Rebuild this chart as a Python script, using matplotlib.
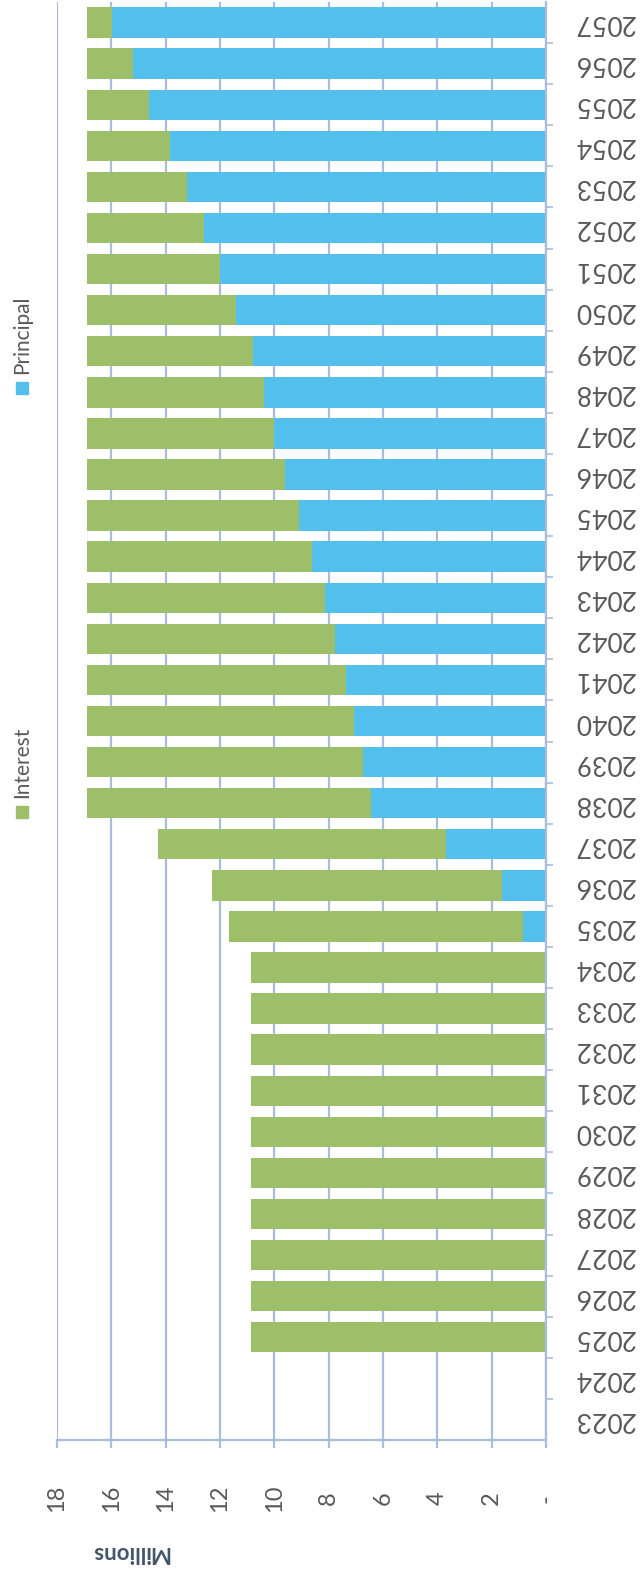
import matplotlib
matplotlib.use("Agg")
from matplotlib import pyplot as plt
from matplotlib.patches import Rectangle
import numpy as np

plt.rcParams['font.family'] = ['Lato', 'DejaVu Sans']

# Debt service schedule, in millions
years = [str(y) for y in range(2023, 2058)]
interest = [0, 0,
            10.85, 10.85, 10.85, 10.85, 10.85, 10.85, 10.85, 10.85, 10.85, 10.85,
            10.85, 10.65, 10.62, 10.45, 10.15, 9.85, 9.55, 9.15, 8.75, 8.30,
            7.80, 7.30, 6.90, 6.52, 6.10, 5.50, 4.90, 4.30, 3.70, 3.05,
            2.30, 1.70, 0.92]
principal = [0, 0,
             0, 0, 0, 0, 0, 0, 0, 0, 0, 0,
             0.83, 1.63, 3.67, 6.45, 6.75, 7.05, 7.35, 7.75, 8.15, 8.60,
             9.10, 9.60, 10.00, 10.38, 10.80, 11.40, 12.00, 12.60, 13.20, 13.85,
             14.60, 15.20, 15.97]
value_ticks = [0, 2, 4, 6, 8, 10, 12, 14, 16, 18]
value_labels = ['-', '2', '4', '6', '8', '10', '12', '14', '16', '18']

GREEN = '#9dbf6a'
BLUE = '#52bfec'
GRID = '#a9bcd9'
TEXT = '#595959'

W, H = 641, 1579
fig = plt.figure(figsize=(W / 100, H / 100), dpi=100)
fig.patch.set_facecolor('white')

# chart is laid out sideways: values run right-to-left, years bottom-to-top
ax = fig.add_axes([57 / W, 1 - 1440 / H, (546 - 57) / W, (1440 - 2) / H])
pos = np.arange(len(years))

ax.barh(pos, principal, height=0.74, color=BLUE, zorder=2)
ax.barh(pos, interest, left=principal, height=0.74, color=GREEN, zorder=2)

ax.set_xlim(18, 0)
ax.set_ylim(-0.5, len(years) - 0.5)

ax.set_axisbelow(True)
ax.grid(axis='x', color=GRID, linewidth=1.6)
ax.grid(axis='y', visible=False)

for side in ['left', 'top']:
    ax.spines[side].set_visible(False)
ax.spines['right'].set_color(GRID)
ax.spines['right'].set_linewidth(1.6)
ax.spines['bottom'].set_color(GRID)
ax.spines['bottom'].set_linewidth(1.6)

# value axis along the bottom
ax.set_xticks(value_ticks)
ax.set_xticklabels(value_labels, rotation=90, va='center', ha='center')
ax.tick_params(axis='x', direction='out', length=6, width=1.6, color=GRID,
               labelsize=17, labelcolor=TEXT, pad=36)

# years on the right, written upside down
ax.yaxis.tick_right()
ax.set_yticks(pos)
ax.set_yticklabels(years, rotation=180, va='center', ha='left')
ax.tick_params(axis='y', which='major', length=0, labelsize=19,
               labelcolor=TEXT, pad=20)
ax.set_yticks(pos[:-1] + 0.5, minor=True)
ax.tick_params(axis='y', which='minor', direction='out', length=5,
               width=1.2, color=GRID)

# units label
fig.text(130 / W, 1 - 1553 / H, 'Millions', rotation=180, ha='center',
         va='center', fontsize=16, fontweight='bold', color='#44546a')

# legend down the left edge
legend_items = [('Interest', GREEN, 812), ('Principal', BLUE, 388)]
for name, color, y_px in legend_items:
    fig.patches.append(Rectangle((16 / W, 1 - (y_px + 6) / H), 12 / W, 12 / H,
                                 transform=fig.transFigure, color=color))
    fig.text(22 / W, 1 - (y_px - 14) / H, name, rotation=90, ha='center',
             va='bottom', fontsize=15, color=TEXT)

fig.savefig('out.png', dpi=100)
